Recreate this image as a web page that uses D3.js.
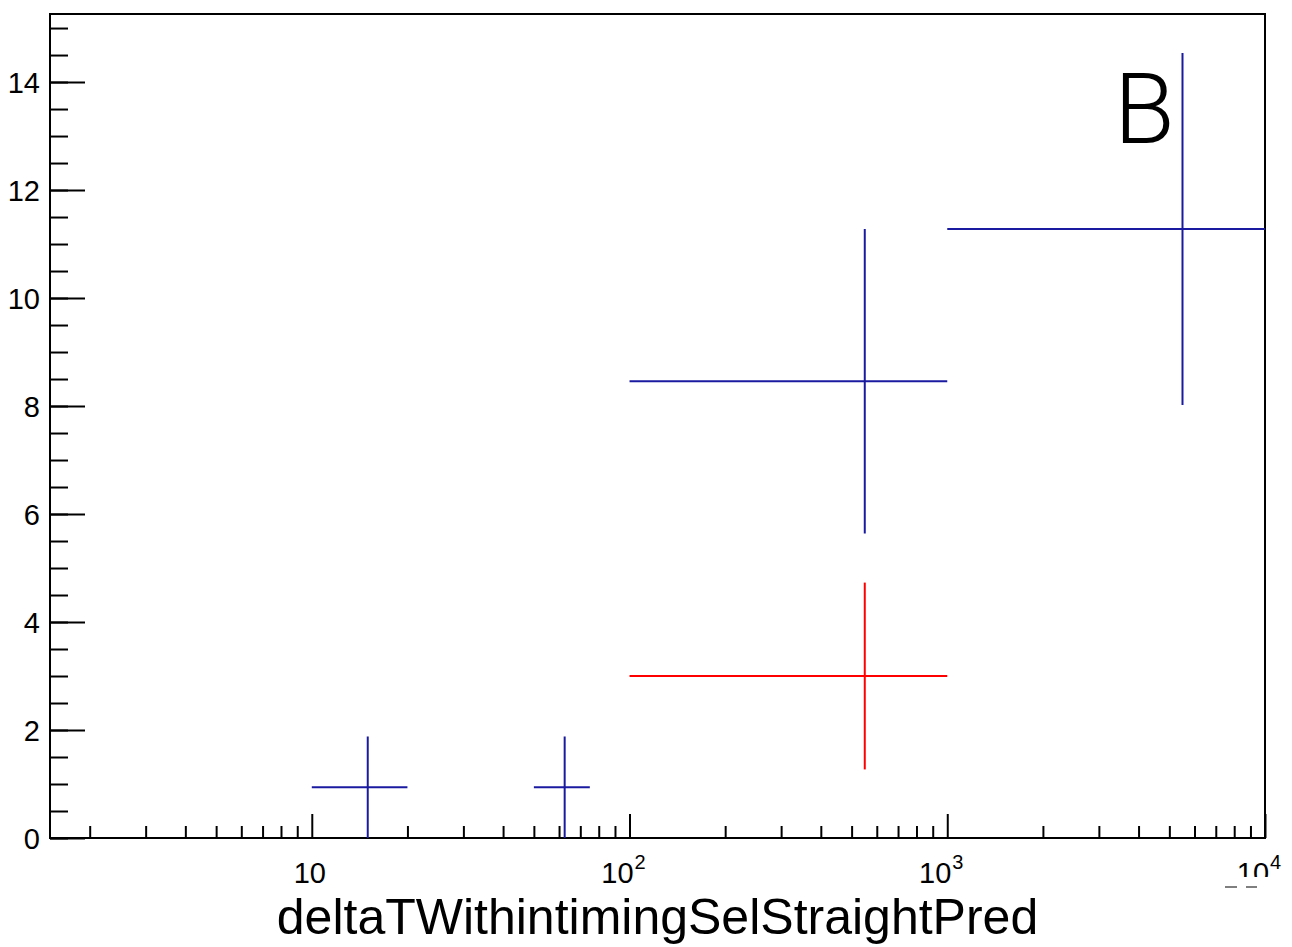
<!DOCTYPE html>
<html>
<head>
<meta charset="utf-8">
<script src="https://cdn.jsdelivr.net/npm/d3@7"></script>
<style>
  html, body { margin: 0; padding: 0; background: #fff; }
  svg { display: block; }
  text { font-family: "Liberation Sans", Arial, Helvetica, sans-serif; fill: #000; }
</style>
</head>
<body>
<svg id="chart" width="1292" height="947"></svg>
<script>
// ---------------- data ----------------
const blueBinLow   = [10, 50, 100, 1000];
const blueBinHigh  = [20, 75, 1000, 10000];
const blueCenters  = [15, 62.5, 550, 5500];
const blueValues   = [0.94, 0.94, 8.46, 11.28];
const blueErrors   = [0.94, 0.94, 2.82, 3.26];

const redBinLow    = [100];
const redBinHigh   = [1000];
const redCenters   = [550];
const redValues    = [3.0];
const redErrors    = [1.73];

const xMajorTicks  = [10, 100, 1000, 10000];
const xTickBase    = ["10", "10", "10", "10"];
const xTickExp     = ["", "2", "3", "4"];
const yMajorTicks  = [0, 2, 4, 6, 8, 10, 12, 14];
const yTickLabels  = ["0", "2", "4", "6", "8", "10", "12", "14"];
const xTitle       = "deltaTWithintimingSelStraightPred";
const panelLabel   = "B";

// ---------------- layout ----------------
const L = 50, R = 1265, T = 14, B = 838;
const svg = d3.select("#chart");

const x = d3.scaleLog().domain([1.5, 10000]).range([L, R]);
const y = d3.scaleLinear().domain([0, 15.26]).range([B, T]);

// minor tick values
const xMinor = [];
[1, 10, 100, 1000].forEach(d => { for (let k = 2; k <= 9; k++) xMinor.push(d * k); });
const yMinor = [];
for (let v = 0; v <= 15.001; v += 0.5) yMinor.push(+v.toFixed(1));

// ---------------- axes ----------------
const gx = svg.append("g").attr("transform", `translate(0,${B})`);
gx.call(d3.axisBottom(x).tickValues(xMinor).tickSize(-12).tickFormat(""));
const gxMaj = svg.append("g").attr("transform", `translate(0,${B})`);
gxMaj.call(d3.axisBottom(x).tickValues(xMajorTicks).tickSize(-24).tickFormat(""));

const gy = svg.append("g").attr("transform", `translate(${L},0)`);
gy.call(d3.axisLeft(y).tickValues(yMinor).tickSize(-18).tickFormat(""));
const gyMaj = svg.append("g").attr("transform", `translate(${L},0)`);
gyMaj.call(d3.axisLeft(y).tickValues(yMajorTicks).tickSize(-35).tickPadding(10)
  .tickFormat((d, i) => yTickLabels[i]));

[gx, gxMaj, gy, gyMaj].forEach(g => {
  g.select(".domain").remove();
  g.selectAll(".tick line").attr("stroke", "#000").attr("stroke-width", 2);
});
gyMaj.selectAll(".tick text")
  .style("font-size", "29px")
  .attr("dy", "0.35em");

// x labels with superscripts
svg.append("defs").append("clipPath").attr("id", "lblclip")
  .append("rect").attr("x", 0).attr("y", 0).attr("width", 1292).attr("height", 877);

const xl = svg.append("g");
xMajorTicks.forEach((v, i) => {
  const hasExp = xTickExp[i] !== "";
  const t = xl.append("text")
    .attr("x", x(v) + (hasExp ? -6 : -2))
    .attr("y", 883)
    .attr("text-anchor", "middle")
    .style("font-size", "29px");
  if (v === 10000) t.attr("clip-path", "url(#lblclip)");
  t.append("tspan").text(xTickBase[i]);
  if (hasExp) {
    t.append("tspan").attr("dy", -14).attr("dx", 1).style("font-size", "20px").text(xTickExp[i]);
  }
});
// clipping artefact under 10^4 label
[[1225, 1237], [1246, 1257]].forEach(([a, b]) => {
  svg.append("line").attr("x1", a).attr("x2", b).attr("y1", 887).attr("y2", 887)
    .attr("stroke", "#555").attr("stroke-width", 1.5);
});

// frame
svg.append("rect").attr("x", L).attr("y", T).attr("width", R - L).attr("height", B - T)
  .attr("fill", "none").attr("stroke", "#000").attr("stroke-width", 2);

// ---------------- data marks ----------------
function drawSeries(lo, hi, cen, val, err, color) {
  const g = svg.append("g").attr("stroke", color).attr("stroke-width", 2).attr("fill", "none");
  val.forEach((v, i) => {
    g.append("line")
      .attr("x1", x(lo[i])).attr("x2", x(hi[i]))
      .attr("y1", y(v)).attr("y2", y(v));
    g.append("line")
      .attr("x1", x(cen[i])).attr("x2", x(cen[i]))
      .attr("y1", y(Math.max(0, v - err[i]))).attr("y2", y(v + err[i]));
  });
}
drawSeries(blueBinLow, blueBinHigh, blueCenters, blueValues, blueErrors, "#1a1aa0");
drawSeries(redBinLow, redBinHigh, redCenters, redValues, redErrors, "#ff0000");

// ---------------- texts ----------------
svg.append("text")
  .attr("x", (L + R) / 2).attr("y", 934)
  .attr("text-anchor", "middle")
  .style("font-size", "50px")
  .text(xTitle);

svg.append("text")
  .attr("x", 1114).attr("y", 143)
  .style("font-family", "Roboto, 'Liberation Sans', sans-serif")
  .style("font-weight", 300)
  .style("font-size", "99px")
  .text(panelLabel);
</script>
</body>
</html>
